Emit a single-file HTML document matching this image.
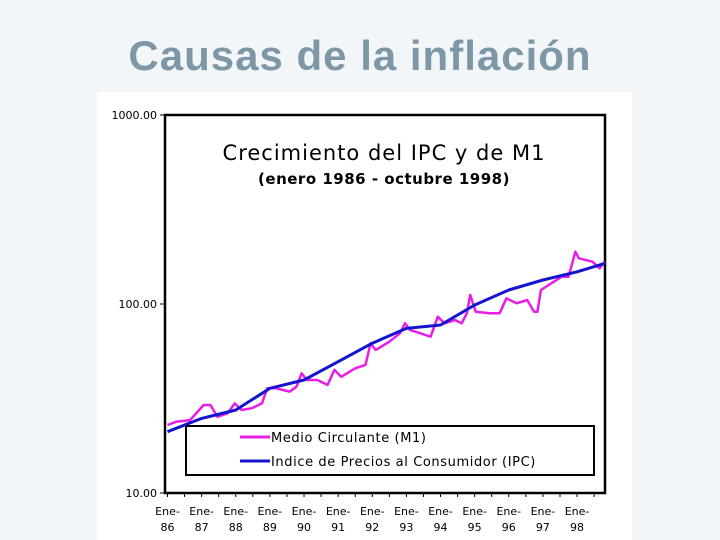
<!DOCTYPE html>
<html><head><meta charset="utf-8"><style>
html,body{margin:0;padding:0}
body{width:720px;height:540px;overflow:hidden;background:#f3f6f9;font-family:"Liberation Sans",sans-serif;position:relative}
#slide-title{position:absolute;left:0;width:720px;top:32px;text-align:center;font-size:42px;font-weight:bold;color:#7d97a6;letter-spacing:1px}
#panel{position:absolute;left:97px;top:92px;width:535px;height:448px;background:#fff}
svg{position:absolute;left:0;top:0}
</style></head><body>
<div id="slide-title">Causas de la inflación</div>
<div id="panel"></div>
<svg id="chart" width="720" height="540"></svg>
<script>
const yearTicks=[86,87,88,89,90,91,92,93,94,95,96,97,98];
const yTickValues=[10,100,1000];
const yTickLabels=["10.00","100.00","1000.00"];
const ipcDates=[86,87,88,89,90,91,92,93,94,95,96,97,98,98.81];
const ipcValues=[21.1,24.8,27.5,35.8,39.6,49.5,62,74.3,77.4,98.8,118.6,134,148,164];
const m1Dates=[86.00,86.25,86.66,87.06,87.26,87.46,87.76,87.97,88.17,88.47,88.77,88.92,89.18,89.58,89.78,89.93,90.08,90.39,90.69,90.89,91.09,91.50,91.80,91.95,92.10,92.50,92.81,92.96,93.11,93.41,93.71,93.92,94.12,94.42,94.62,94.77,94.87,95.03,95.43,95.73,95.93,96.23,96.54,96.74,96.84,96.94,97.24,97.55,97.75,97.95,98.05,98.45,98.66,98.81];
const m1Values=[22.9,23.8,24.3,29.2,29.2,25.3,26.4,29.8,27.5,28.1,29.8,35.8,35.8,34.4,36.5,43,39.6,39.6,37.3,44.8,41.2,45.7,47.6,62,57.1,63.2,70,79,72.8,70,67.1,85.7,79,82.3,79,89.3,111.6,91,89.3,89.3,107.2,100.9,105,91,91,118.6,128.6,139.5,139.5,189,174.4,167.5,154.5,167.5];

const NS="http://www.w3.org/2000/svg";
const svg=document.getElementById('chart');
const L=165,R=605,T=115,B=493;
const x=yr=>167.5+(yr-86)*34.13;
const y=v=>B-(B-T)*Math.log10(v/10)/2;
function mk(tag,attrs,parent){const e=document.createElementNS(NS,tag);for(const k in attrs)e.setAttribute(k,attrs[k]);(parent||svg).appendChild(e);return e;}

const frame=mk('rect',{x:L,y:T,width:R-L,height:B-T,fill:'none',stroke:'#000','stroke-width':2.5});



yTickValues.forEach((v,i)=>{
  const t=mk('line',{x1:L-5,x2:L,y1:y(v),y2:y(v),stroke:'#000','stroke-width':1});
  
  
  const tx=mk('text',{x:157,y:y(v)+4,'text-anchor':'end','font-size':11,'font-family':'DejaVu Sans, sans-serif',fill:'#000'});
  tx.textContent=yTickLabels[i];
  
  
});
for(let h=0;h<=25;h++){
  const yr=86+h/2;const xx=x(yr);if(xx>R)break;
  const t=mk('line',{x1:xx,x2:xx,y1:B,y2:B+4,stroke:'#000','stroke-width':1});
  
  
}
yearTicks.forEach(yr=>{
  const g=mk('text',{x:x(yr),y:515,'text-anchor':'middle','font-size':11,'font-family':'DejaVu Sans, sans-serif',fill:'#000'});
  
  
  const a=mk('tspan',{x:x(yr),dy:0},g);a.textContent='Ene-';
  const b=mk('tspan',{x:x(yr),dy:16},g);b.textContent=String(yr);
});

const t1=mk('text',{x:384,y:160,'text-anchor':'middle','font-size':21,'letter-spacing':1,'font-family':'DejaVu Sans, sans-serif',fill:'#000'});
t1.textContent='Crecimiento del IPC y de M1';


const t2=mk('text',{x:384,y:184,'text-anchor':'middle','font-size':15,'font-weight':'bold','letter-spacing':0.5,'font-family':'DejaVu Sans, sans-serif',fill:'#000'});
t2.textContent='(enero 1986 - octubre 1998)';



function path(d,v){return d.map((yr,i)=>(i?'L':'M')+x(yr).toFixed(1)+','+y(v[i]).toFixed(1)).join(' ');}
const m1=mk('path',{d:path(m1Dates,m1Values),fill:'none',stroke:'#e81ee8','stroke-width':2.5,'stroke-linejoin':'round'});


const ipc=mk('path',{d:path(ipcDates,ipcValues),fill:'none',stroke:'#1414d0','stroke-width':3,'stroke-linejoin':'round'});



const lg=mk('rect',{x:186,y:426,width:408,height:49,fill:'#fff',stroke:'#000','stroke-width':2});


const items=[['Medio Circulante (M1)','#e81ee8',437],['Indice de Precios al Consumidor (IPC)','#1414d0',461]];
items.forEach(([lab,c,yy])=>{
  const l=mk('line',{x1:240,x2:270,y1:yy,y2:yy,stroke:c,'stroke-width':3});
  
  
  const tx=mk('text',{x:271,y:yy+5,'font-size':13,'letter-spacing':0.6,'font-family':'DejaVu Sans, sans-serif',fill:'#000'});
  tx.textContent=lab;
  
  
});
</script>
</body></html>
